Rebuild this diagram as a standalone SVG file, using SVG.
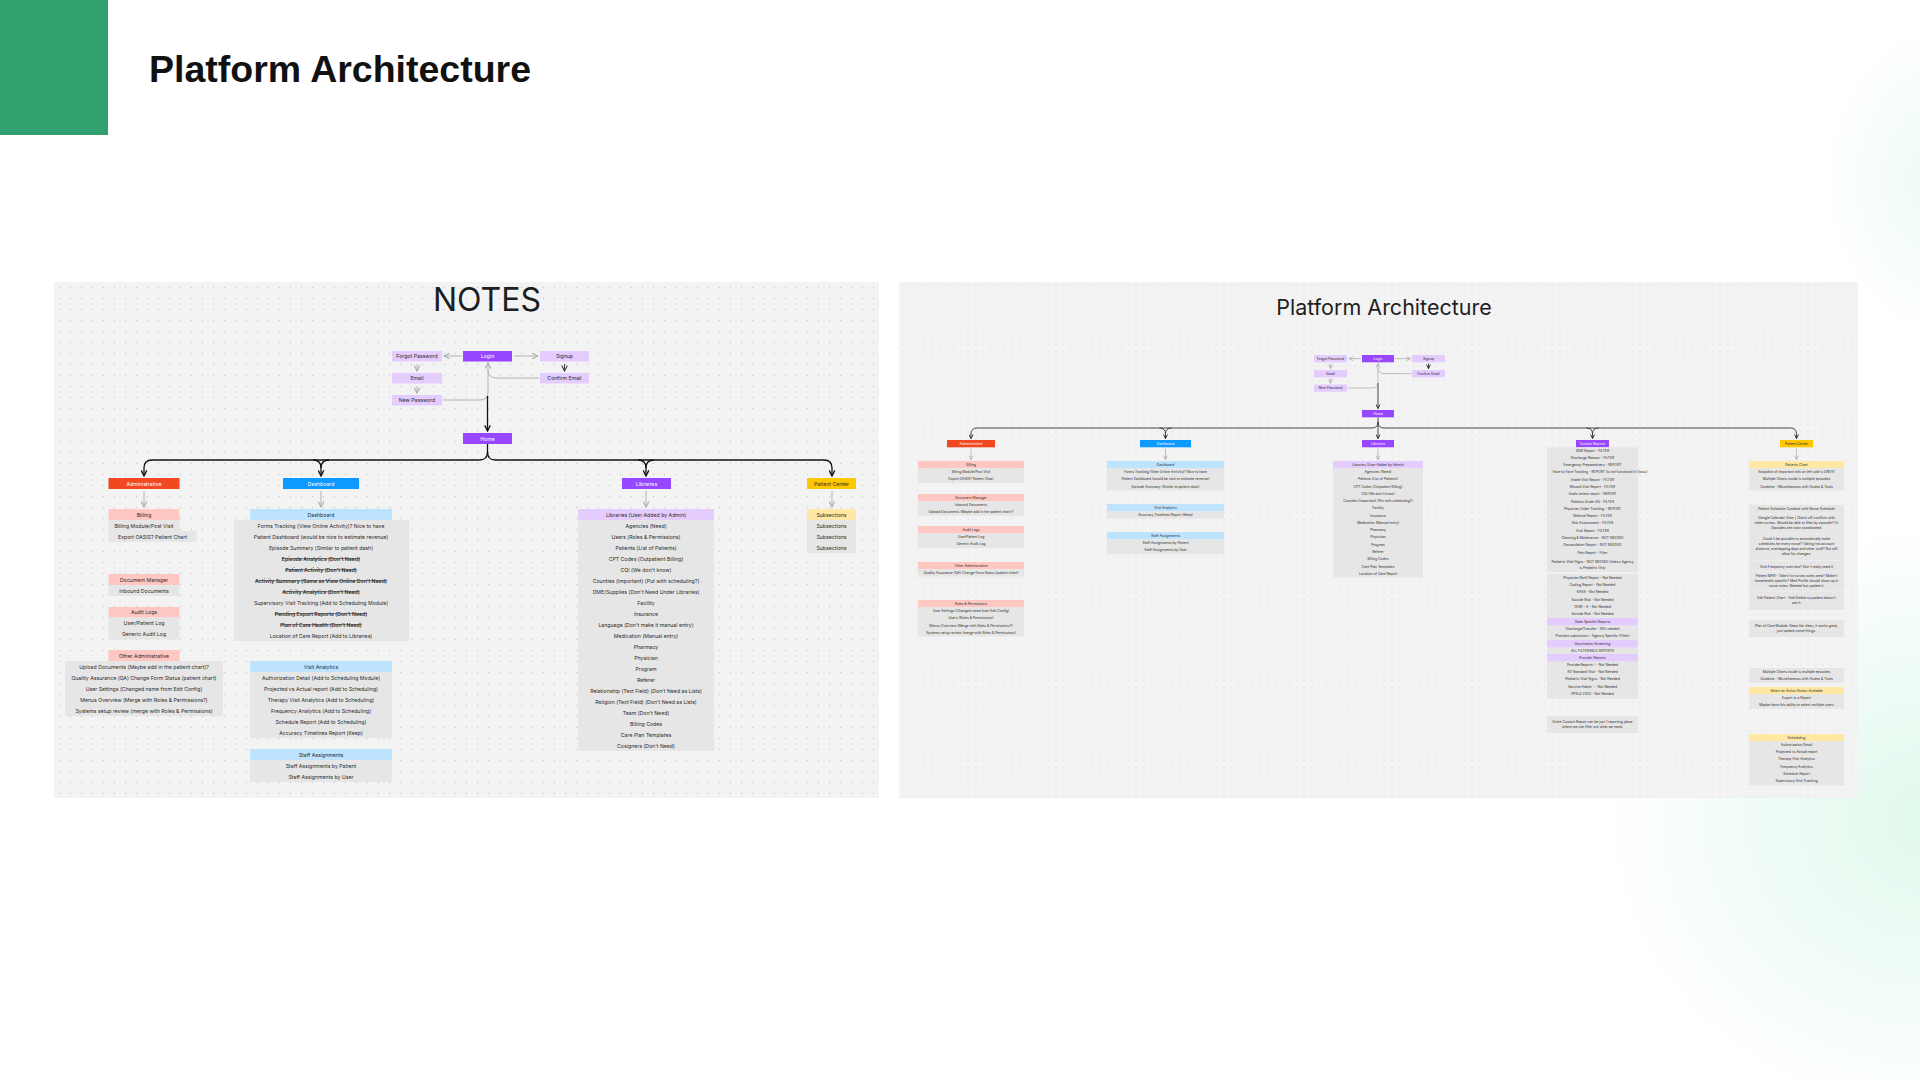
<svg xmlns="http://www.w3.org/2000/svg" width="1920" height="1080" viewBox="0 0 1920 1080">
<defs>
<pattern id="dotL" x="54" y="282" width="11" height="11" patternUnits="userSpaceOnUse"><circle cx="5.5" cy="5.5" r="0.7" fill="#c9c9c9"/></pattern>
<pattern id="dotR" x="899" y="282" width="7.3" height="7.3" patternUnits="userSpaceOnUse"><circle cx="3.65" cy="3.65" r="0.5" fill="#c9c9c9"/></pattern>
<radialGradient id="mint" cx="0.5" cy="0.5" r="0.5"><stop offset="0" stop-color="#d6f6e6" stop-opacity="0.75"/><stop offset="1" stop-color="#d6f6e6" stop-opacity="0"/></radialGradient>
<marker id="abL" viewBox="0 0 10 10" refX="9" refY="5" markerWidth="7" markerHeight="7" markerUnits="userSpaceOnUse" orient="auto"><path d="M1,1 L9,5 L1,9" fill="none" stroke="#111" stroke-width="1.8"/></marker>
<marker id="agL" viewBox="0 0 10 10" refX="9" refY="5" markerWidth="7" markerHeight="7" markerUnits="userSpaceOnUse" orient="auto"><path d="M1,1 L9,5 L1,9" fill="none" stroke="#aaa" stroke-width="1.5"/></marker>
<marker id="adL" viewBox="0 0 10 10" refX="9" refY="5" markerWidth="7" markerHeight="7" markerUnits="userSpaceOnUse" orient="auto"><path d="M1,1 L9,5 L1,9" fill="none" stroke="#444" stroke-width="1.6"/></marker>
<marker id="abR" viewBox="0 0 10 10" refX="9" refY="5" markerWidth="5" markerHeight="5" markerUnits="userSpaceOnUse" orient="auto"><path d="M1,1 L9,5 L1,9" fill="none" stroke="#222" stroke-width="1.8"/></marker>
<marker id="agR" viewBox="0 0 10 10" refX="9" refY="5" markerWidth="5" markerHeight="5" markerUnits="userSpaceOnUse" orient="auto"><path d="M1,1 L9,5 L1,9" fill="none" stroke="#aaa" stroke-width="1.5"/></marker>
<style>
.L{font-family:Inter,'Liberation Sans',sans-serif;font-size:5.2px;fill:#2b2b2b;text-anchor:middle;dominant-baseline:central}
.R{font-family:Inter,'Liberation Sans',sans-serif;font-size:3.4px;fill:#2b2b2b;text-anchor:middle;dominant-baseline:central}
.w{fill:#fff}
.s{text-decoration:line-through;font-weight:600}
.row{fill:#e6e6e6}
.pk{fill:#ffc7c2}
.lb{fill:#bde3ff}
.lv{fill:#e4ccff}
.ly{fill:#ffe8a3}
.or{fill:#f24822}
.bl{fill:#0d99ff}
.pu{fill:#9747ff}
.ye{fill:#ffc700}
.cb{fill:none;stroke:#111;stroke-width:1.3}
.cg{fill:none;stroke:#b3b3b3;stroke-width:1}
.cd{fill:none;stroke:#444;stroke-width:1}
.rb{fill:none;stroke:#333;stroke-width:0.9}
.rg{fill:none;stroke:#b3b3b3;stroke-width:0.8}
</style>
</defs>
<rect width="1920" height="1080" fill="#fff"/>
<ellipse cx="1930" cy="820" rx="330" ry="300" fill="url(#mint)"/>
<ellipse cx="1940" cy="180" rx="120" ry="160" fill="url(#mint)" opacity="0.6"/>
<rect x="0" y="0" width="108" height="135" fill="#31a06f"/>
<text x="149" y="82" font-family="'Liberation Sans',Arial,sans-serif" font-weight="700" font-size="37.5" fill="#111">Platform Architecture</text>

<!-- LEFT PANEL -->
<rect x="54" y="282" width="825" height="516" fill="#f3f3f3"/>
<rect x="54" y="282" width="825" height="516" fill="url(#dotL)"/>
<text x="487" y="311" font-family="Inter,'Liberation Sans',sans-serif" font-size="32" fill="#1e1e1e" text-anchor="middle">NOTES</text>

<g id="left-connectors">
<path class="cg" d="M462 356 H444" marker-end="url(#agL)"/>
<path class="cg" d="M514 356 H538" marker-end="url(#agL)"/>
<path class="cg" d="M417 364 V371" marker-end="url(#agL)"/>
<path class="cg" d="M417 386 V393" marker-end="url(#agL)"/>
<path class="cd" d="M564.5 364 V371" marker-end="url(#adL)"/>
<path class="cg" d="M443 400 H480 Q488 400 488 392 V370"/>
<path class="cg" d="M539 378 H496 Q488 378 488 370 V363" marker-end="url(#agL)"/>
<path class="cb" d="M487.5 396 V431" marker-end="url(#abL)"/>
<path class="cb" d="M487.5 444 V452 Q487.5 460 479.5 460 H152 Q144 460 144 468 V476" marker-end="url(#abL)"/>
<path class="cb" d="M487.5 452 Q487.5 460 495.5 460 H824 Q832 460 832 468 V476" marker-end="url(#abL)"/>
<path class="cb" d="M313 460 Q321 460 321 468 V476" marker-end="url(#abL)"/>
<path class="cb" d="M329 460 Q321 460 321 468"/>
<path class="cb" d="M638 460 Q646 460 646 468 V476" marker-end="url(#abL)"/>
<path class="cb" d="M654 460 Q646 460 646 468"/>
<path class="cg" d="M144 491 V507" marker-end="url(#agL)"/>
<path class="cg" d="M321 491 V507" marker-end="url(#agL)"/>
<path class="cg" d="M646 491 V507" marker-end="url(#agL)"/>
<path class="cg" d="M832 491 V507" marker-end="url(#agL)"/>
</g>

<g id="l-forgot"><rect class="lv" x="392" y="351" width="50" height="10.5"/><text class="L" x="417" y="356.3">Forgot Password</text></g>
<g id="l-login"><rect class="pu" x="463" y="351" width="49" height="10.5"/><text class="L w" x="487.5" y="356.3">Login</text></g>
<g id="l-signup"><rect class="lv" x="540" y="351" width="49" height="10.5"/><text class="L" x="564.5" y="356.3">Signup</text></g>
<g id="l-email"><rect class="lv" x="392" y="373" width="50" height="10.5"/><text class="L" x="417" y="378.3">Email</text></g>
<g id="l-confirm"><rect class="lv" x="540" y="373" width="49" height="10.5"/><text class="L" x="564.5" y="378.3">Confirm Email</text></g>
<g id="l-newpw"><rect class="lv" x="392" y="395" width="50" height="10.5"/><text class="L" x="417" y="400.3">New Password</text></g>
<g id="l-home"><rect class="pu" x="463" y="433" width="49" height="11"/><text class="L w" x="487.5" y="438.5">Home</text></g>

<g id="l-administrative"><rect class="or" x="108.5" y="478" width="71" height="11"/><text class="L w" x="144" y="483.5">Administrative</text></g>
<g id="l-dashboard"><rect class="bl" x="283" y="478" width="76" height="11"/><text class="L w" x="321" y="483.5">Dashboard</text></g>
<g id="l-libraries"><rect class="pu" x="622" y="478" width="49" height="11"/><text class="L w" x="646.5" y="483.5">Libraries</text></g>
<g id="l-patient-center"><rect class="ye" x="807" y="478" width="49" height="11"/><text class="L" x="831.5" y="483.5">Patient Center</text></g>

<g id="l-billing">
<rect class="pk" x="108.5" y="509" width="71" height="11"/><text class="L" x="144" y="514.5">Billing</text>
<rect class="row" x="108.5" y="520" width="71" height="11"/><text class="L" x="144" y="525.5">Billing Module/Post Visit</text>
<rect class="row" x="108.5" y="531" width="88" height="11"/><text class="L" x="152.5" y="536.5">Export OASIS? Patient Chart</text>
</g>
<g id="l-document-manager">
<rect class="pk" x="108.5" y="574" width="71" height="11"/><text class="L" x="144" y="579.5">Document Manager</text>
<rect class="row" x="108.5" y="585" width="71" height="11"/><text class="L" x="144" y="590.5">Inbound Documents</text>
</g>
<g id="l-audit-logs">
<rect class="pk" x="108.5" y="607" width="71" height="10.5"/><text class="L" x="144" y="612.3">Audit Logs</text>
<rect class="row" x="108.5" y="617.5" width="71" height="22"/><text class="L" x="144" y="623">User/Patient Log</text><text class="L" x="144" y="634">Generic Audit Log</text>
</g>
<g id="l-other-admin">
<rect class="pk" x="108.5" y="650" width="71" height="11"/><text class="L" x="144" y="655.5">Other Administrative</text>
<rect class="row" x="65" y="661" width="158" height="55"/>
<text class="L" x="144" y="666.5">Upload Documents (Maybe add in the patient chart)?</text>
<text class="L" x="144" y="677.5">Quality Assurance (QA) Change Form Status (patient chart)</text>
<text class="L" x="144" y="688.5">User Settings (Changed name from Edit Config)</text>
<text class="L" x="144" y="699.5">Menus Overview (Merge with Roles &amp; Permissions?)</text>
<text class="L" x="144" y="710.5">Systems setup review (merge with Roles &amp; Permissions)</text>
</g>

<g id="l-dashboard-list">
<rect class="lb" x="250" y="509" width="142" height="11"/><text class="L" x="321" y="514.5">Dashboard</text>
<rect class="row" x="234" y="520" width="175" height="121"/>
<text class="L" x="321" y="525.5">Forms Tracking (View Online Activity)? Nice to have</text>
<text class="L" x="321" y="536.5">Patient Dashboard (would be nice to estimate revenue)</text>
<text class="L" x="321" y="547.5">Episode Summary (Similar to patient dash)</text>
<text class="L s" x="321" y="558.5">Episode Analytics (Don't Need)</text>
<text class="L s" x="321" y="569.5">Patient Activity (Don't Need)</text>
<text class="L s" x="321" y="580.5">Activity Summary (Same as View Online Don't Need)</text>
<text class="L s" x="321" y="591.5">Activity Analytics (Don't Need)</text>
<text class="L" x="321" y="602.5">Supervisory Visit Tracking (Add to Scheduling Module)</text>
<text class="L s" x="321" y="613.5">Pending Export Reports (Don't Need)</text>
<text class="L s" x="321" y="624.5">Plan of Care Health (Don't Need)</text>
<text class="L" x="321" y="635.5">Location of Care Report (Add to Libraries)</text>
</g>
<g id="l-visit-analytics">
<rect class="lb" x="250" y="661" width="142" height="11"/><text class="L" x="321" y="666.5">Visit Analytics</text>
<rect class="row" x="250" y="672" width="142" height="66"/>
<text class="L" x="321" y="677.5">Authorization Detail (Add to Scheduling Module)</text>
<text class="L" x="321" y="688.5">Projected vs Actual report (Add to Scheduling)</text>
<text class="L" x="321" y="699.5">Therapy Visit Analytics (Add to Scheduling)</text>
<text class="L" x="321" y="710.5">Frequency Analytics (Add to Scheduling)</text>
<text class="L" x="321" y="721.5">Schedule Report (Add to Scheduling)</text>
<text class="L" x="321" y="732.5">Accuracy Timelines Report (Keep)</text>
</g>
<g id="l-staff-assignments">
<rect class="lb" x="250" y="749" width="142" height="11"/><text class="L" x="321" y="754.5">Staff Assignments</text>
<rect class="row" x="250" y="760" width="142" height="22"/>
<text class="L" x="321" y="765.5">Staff Assignments by Patient</text>
<text class="L" x="321" y="776.5">Staff Assignments by User</text>
</g>

<g id="l-libraries-list">
<rect class="lv" x="578" y="509" width="136" height="11"/><text class="L" x="646" y="514.5">Libraries (User Added by Admin)</text>
<rect class="row" x="578" y="520" width="136" height="231"/>
<text class="L" x="646" y="525.5">Agencies (Need)</text>
<text class="L" x="646" y="536.5">Users (Roles &amp; Permissions)</text>
<text class="L" x="646" y="547.5">Patients (List of Patients)</text>
<text class="L" x="646" y="558.5">CPT Codes (Outpatient Billing)</text>
<text class="L" x="646" y="569.5">CQI (We don't know)</text>
<text class="L" x="646" y="580.5">Counties (Important) (Put with scheduling?)</text>
<text class="L" x="646" y="591.5">DME/Supplies (Don't Need Under Libraries)</text>
<text class="L" x="646" y="602.5">Facility</text>
<text class="L" x="646" y="613.5">Insurance</text>
<text class="L" x="646" y="624.5">Language (Don't make it manual entry)</text>
<text class="L" x="646" y="635.5">Medication (Manual entry)</text>
<text class="L" x="646" y="646.5">Pharmacy</text>
<text class="L" x="646" y="657.5">Physician</text>
<text class="L" x="646" y="668.5">Program</text>
<text class="L" x="646" y="679.5">Referer</text>
<text class="L" x="646" y="690.5">Relationship (Text Field) (Don't Need as Lists)</text>
<text class="L" x="646" y="701.5">Religion (Text Field) (Don't Need as Lists)</text>
<text class="L" x="646" y="712.5">Team (Don't Need)</text>
<text class="L" x="646" y="723.5">Billing Codes</text>
<text class="L" x="646" y="734.5">Care Plan Templates</text>
<text class="L" x="646" y="745.5">Cosigners (Don't Need)</text>
</g>
<g id="l-subsections">
<rect class="ly" x="807" y="509" width="49" height="11"/><text class="L" x="831.5" y="514.5">Subsections</text>
<rect class="row" x="807" y="520" width="49" height="33"/>
<text class="L" x="831.5" y="525.5">Subsections</text>
<text class="L" x="831.5" y="536.5">Subsections</text>
<text class="L" x="831.5" y="547.5">Subsections</text>
</g>

<!-- RIGHT PANEL -->
<rect x="899" y="282" width="959" height="516" fill="#f3f3f3"/>
<rect x="899" y="282" width="959" height="516" fill="url(#dotR)"/>
<text x="1384" y="315" font-family="Inter,'Liberation Sans',sans-serif" font-size="21.5" fill="#1e1e1e" text-anchor="middle">Platform Architecture</text>

<g id="right-connectors">
<path class="rg" d="M1361 358.6 H1349" marker-end="url(#agR)"/>
<path class="rg" d="M1395 358.6 H1410.5" marker-end="url(#agR)"/>
<path class="rg" d="M1330.5 363.5 V368.6" marker-end="url(#agR)"/>
<path class="rg" d="M1330.5 378 V383.2" marker-end="url(#agR)"/>
<path class="rb" d="M1428.5 363.5 V368.6" marker-end="url(#abR)"/>
<path class="rg" d="M1348 388 H1372 Q1378 388 1378 382 V368"/>
<path class="rg" d="M1411 373.6 H1384 Q1378 373.6 1378 367.6 V363.5" marker-end="url(#agR)"/>
<path class="rb" d="M1378 383 V408.5" stroke-width="1.2" marker-end="url(#abR)"/>
<path class="rb" d="M1378 417.5 V438.5" stroke-width="1.2" marker-end="url(#abR)"/>
<path class="rb" d="M1378 422 Q1378 428 1372 428 H977 Q971 428 971 434 V438.5" marker-end="url(#abR)"/>
<path class="rb" d="M1378 422 Q1378 428 1384 428 H1790.5 Q1796.5 428 1796.5 434 V438.5" marker-end="url(#abR)"/>
<path class="rb" d="M1159.5 428 Q1165.5 428 1165.5 434 V438.5" marker-end="url(#abR)"/>
<path class="rb" d="M1171.5 428 Q1165.5 428 1165.5 434"/>
<path class="rb" d="M1586.5 428 Q1592.5 428 1592.5 434 V438.5" marker-end="url(#abR)"/>
<path class="rb" d="M1598.5 428 Q1592.5 428 1592.5 434"/>
<path class="rg" d="M971 448.5 V459.5" marker-end="url(#agR)"/>
<path class="rg" d="M1165.5 448.5 V459.5" marker-end="url(#agR)"/>
<path class="rg" d="M1378 448.5 V459.5" marker-end="url(#agR)"/>
<path class="rg" d="M1796.5 448.5 V459.5" marker-end="url(#agR)"/>
</g>

<g id="r-forgot"><rect class="lv" x="1314" y="355" width="33" height="7.3"/><text class="R" x="1330.5" y="358.7">Forgot Password</text></g>
<g id="r-login"><rect class="pu" x="1362" y="355" width="32" height="7.3"/><text class="R w" x="1378" y="358.7">Login</text></g>
<g id="r-signup"><rect class="lv" x="1412" y="355" width="33" height="7.3"/><text class="R" x="1428.5" y="358.7">Signup</text></g>
<g id="r-email"><rect class="lv" x="1314" y="370" width="33" height="7.3"/><text class="R" x="1330.5" y="373.7">Email</text></g>
<g id="r-confirm"><rect class="lv" x="1412" y="370" width="33" height="7.3"/><text class="R" x="1428.5" y="373.7">Confirm Email</text></g>
<g id="r-newpw"><rect class="lv" x="1314" y="384.5" width="33" height="7.3"/><text class="R" x="1330.5" y="388.2">New Password</text></g>
<g id="r-home"><rect class="pu" x="1362" y="410" width="32" height="7.3"/><text class="R w" x="1378" y="413.7">Home</text></g>

<g id="r-administrative"><rect class="or" x="947" y="440" width="48" height="7.3"/><text class="R w" x="971" y="443.7">Administrative</text></g>
<g id="r-dashboard"><rect class="bl" x="1140" y="440" width="51" height="7.3"/><text class="R w" x="1165.5" y="443.7">Dashboard</text></g>
<g id="r-libraries"><rect class="pu" x="1362" y="440" width="32" height="7.3"/><text class="R w" x="1378" y="443.7">Libraries</text></g>
<g id="r-custom-reports"><rect class="pu" x="1576" y="440" width="33" height="7.3"/><text class="R w" x="1592.5" y="443.7">Custom Reports</text></g>
<g id="r-patient-center"><rect class="ye" x="1780" y="440" width="33" height="7.3"/><text class="R" x="1796.5" y="443.7">Patient Center</text></g>

<g id="r-billing">
<rect class="pk" x="918" y="461" width="106" height="7.3"/><text class="R" x="971" y="464.7">Billing</text>
<rect class="row" x="918" y="468.3" width="106" height="14.6"/>
<text class="R" x="971" y="472">Billing Module/Post Visit</text>
<text class="R" x="971" y="479.3">Export OASIS? Patient Chart</text>
</g>
<g id="r-document-manager">
<rect class="pk" x="918" y="494" width="106" height="7.3"/><text class="R" x="971" y="497.7">Document Manager</text>
<rect class="row" x="918" y="501.3" width="106" height="14.6"/>
<text class="R" x="971" y="505">Inbound Documents</text>
<text class="R" x="971" y="512.3">Upload Documents (Maybe add in the patient chart)?</text>
</g>
<g id="r-audit-logs">
<rect class="pk" x="918" y="526" width="106" height="7.3"/><text class="R" x="971" y="529.7">Audit Logs</text>
<rect class="row" x="918" y="533.3" width="106" height="14.6"/>
<text class="R" x="971" y="537">User/Patient Log</text>
<text class="R" x="971" y="544.3">Generic Audit Log</text>
</g>
<g id="r-other-admin">
<rect class="pk" x="918" y="562" width="106" height="7.3"/><text class="R" x="971" y="565.7">Other Administrative</text>
<rect class="row" x="918" y="569.3" width="106" height="7.3"/>
<text class="R" x="971" y="573">Quality Assurance (QA) Change Form Status (patient chart)</text>
</g>
<g id="r-roles">
<rect class="pk" x="918" y="600" width="106" height="7.3"/><text class="R" x="971" y="603.7">Roles &amp; Permissions</text>
<rect class="row" x="918" y="607.3" width="106" height="29.2"/>
<text class="R" x="971" y="611">User Settings (Changed name from Edit Config)</text>
<text class="R" x="971" y="618.3">Users (Roles &amp; Permissions)</text>
<text class="R" x="971" y="625.6">Menus Overview (Merge with Roles &amp; Permissions?)</text>
<text class="R" x="971" y="632.9">Systems setup review (merge with Roles &amp; Permissions)</text>
</g>

<g id="r-dashboard-list">
<rect class="lb" x="1107" y="461" width="117" height="7.3"/><text class="R" x="1165.5" y="464.7">Dashboard</text>
<rect class="row" x="1107" y="468.3" width="117" height="21.9"/>
<text class="R" x="1165.5" y="472">Forms Tracking (View Online Activity)? Nice to have</text>
<text class="R" x="1165.5" y="479.3">Patient Dashboard (would be nice to estimate revenue)</text>
<text class="R" x="1165.5" y="486.6">Episode Summary (Similar to patient dash)</text>
</g>
<g id="r-visit-analytics">
<rect class="lb" x="1107" y="504" width="117" height="7.3"/><text class="R" x="1165.5" y="507.7">Visit Analytics</text>
<rect class="row" x="1107" y="511.3" width="117" height="7.3"/>
<text class="R" x="1165.5" y="515">Accuracy Timelines Report (Keep)</text>
</g>
<g id="r-staff-assignments">
<rect class="lb" x="1107" y="532" width="117" height="7.3"/><text class="R" x="1165.5" y="535.7">Staff Assignments</text>
<rect class="row" x="1107" y="539.3" width="117" height="14.6"/>
<text class="R" x="1165.5" y="543">Staff Assignments by Patient</text>
<text class="R" x="1165.5" y="550.3">Staff Assignments by User</text>
</g>

<g id="r-libraries-list">
<rect class="lv" x="1333" y="461" width="90" height="7.3"/><text class="R" x="1378" y="464.7">Libraries (User Added by Admin)</text>
<rect class="row" x="1333" y="468.3" width="90" height="109"/>
<text class="R" x="1378" y="472">Agencies (Need)</text>
<text class="R" x="1378" y="479.3">Patients (List of Patients)</text>
<text class="R" x="1378" y="486.5">CPT Codes (Outpatient Billing)</text>
<text class="R" x="1378" y="493.8">CQI (We don't know)</text>
<text class="R" x="1378" y="501.1">Counties (Important) (Put with scheduling?)</text>
<text class="R" x="1378" y="508.4">Facility</text>
<text class="R" x="1378" y="515.6">Insurance</text>
<text class="R" x="1378" y="522.9">Medication (Manual entry)</text>
<text class="R" x="1378" y="530.2">Pharmacy</text>
<text class="R" x="1378" y="537.4">Physician</text>
<text class="R" x="1378" y="544.7">Program</text>
<text class="R" x="1378" y="552">Referer</text>
<text class="R" x="1378" y="559.2">Billing Codes</text>
<text class="R" x="1378" y="566.5">Care Plan Templates</text>
<text class="R" x="1378" y="573.8">Location of Care Report</text>
</g>

<g id="r-custom-reports-list">
<rect class="row" x="1547" y="447.3" width="91" height="125"/>
<rect class="row" x="1547" y="574" width="91" height="124.6"/>
<rect class="lv" x="1547" y="618" width="91" height="7.3"/>
<rect class="lv" x="1547" y="640" width="91" height="7.3"/>
<rect class="lv" x="1547" y="654" width="91" height="7.3"/>
<text class="R" x="1592.5" y="450.6">DNR Report - FILTER</text>
<text class="R" x="1592.5" y="457.9">Discharge Reason - FILTER</text>
<text class="R" x="1592.5" y="465.1">Emergency Preparedness - REPORT</text>
<text class="R" x="1600" y="472.4">Face to Face Tracking - REPORT (is not functional in Oasis)</text>
<text class="R" x="1592.5" y="479.7">Intake Visit Report - FILTER</text>
<text class="R" x="1592.5" y="487">Missed Visit Report - FILTER</text>
<text class="R" x="1592.5" y="494.2">Goals review report - REPORT</text>
<text class="R" x="1592.5" y="501.5">Patients Under 65 - FILTER</text>
<text class="R" x="1592.5" y="508.8">Physician Order Tracking - REPORT</text>
<text class="R" x="1592.5" y="516">Referral Report - FILTER</text>
<text class="R" x="1592.5" y="523.3">Risk Assessment - FILTER</text>
<text class="R" x="1592.5" y="530.6">Visit Report - FILTER</text>
<text class="R" x="1592.5" y="537.8">Cleaning &amp; Maitenance - NOT NEEDED</text>
<text class="R" x="1592.5" y="545.1">Decanulation Report - NOT NEEDED</text>
<text class="R" x="1592.5" y="552.6">Pain Report - Filter</text>
<text class="R" x="1592.5" y="562.3">Pediatric Vital Signs - NOT NEEDED Unless Agency</text>
<text class="R" x="1592.5" y="567.6">is Pediatric Only</text>
<text class="R" x="1592.5" y="577.7">Physician Notif Report - Not Needed</text>
<text class="R" x="1592.5" y="585">Coding Report - Not Needed</text>
<text class="R" x="1592.5" y="592.3">KASS - Not Needed</text>
<text class="R" x="1592.5" y="599.6">Suicide Risk - Not Needed</text>
<text class="R" x="1592.5" y="606.9">TASR - A - Not Needed</text>
<text class="R" x="1592.5" y="614.3">Suicide Risk - Not Needed</text>
<text class="R" x="1592.5" y="621.7">State Specific Reports</text>
<text class="R" x="1592.5" y="629">Discharge/Transfer - NOt needed</text>
<text class="R" x="1592.5" y="636.3">Preclaim submission - Agency Specific (Filter)</text>
<text class="R" x="1592.5" y="643.7">Vaccination Screening</text>
<text class="R" x="1592.5" y="650.5">ALL FILTERABLE REPORTS</text>
<text class="R" x="1592.5" y="657.7">Provider Reports</text>
<text class="R" x="1592.5" y="664.8">ProviderReports - - Not Needed</text>
<text class="R" x="1592.5" y="672">SV Standard Visit - Not Needed</text>
<text class="R" x="1592.5" y="679.4">Pediatric Vital Signs - Not Needed</text>
<text class="R" x="1592.5" y="686.8">Vaccine Admin - - Not Needed</text>
<text class="R" x="1592.5" y="694.4">PPSv2 2020 - Not Needed</text>
</g>
<g id="r-custom-note">
<rect class="row" x="1547" y="716" width="91" height="17"/>
<text class="R" x="1592.5" y="722">Entire Custom Report can be just 1 reporting place</text>
<text class="R" x="1592.5" y="727.3">where we can filter out what we need.</text>
</g>

<g id="r-patients-chart">
<rect class="ly" x="1749" y="461" width="95" height="7.3"/><text class="R" x="1796.5" y="464.7">Patients Chart</text>
<rect class="row" x="1749" y="468.3" width="95" height="21.9"/>
<text class="R" x="1796.5" y="472">Snapshot of important info on left side is GREAT</text>
<text class="R" x="1796.5" y="479.3">Multiple Charts inside is multiple episodes</text>
<text class="R" x="1796.5" y="486.6">Combine - Miscellaneous with Scales &amp; Tools</text>
</g>
<g id="r-patient-notes">
<rect class="row" x="1749" y="505" width="95" height="8.3"/>
<rect class="row" x="1749" y="513.8" width="95" height="19.8"/>
<rect class="row" x="1749" y="534.1" width="95" height="26.2"/>
<rect class="row" x="1749" y="560.8" width="95" height="10.6"/>
<rect class="row" x="1749" y="571.9" width="95" height="19.6"/>
<rect class="row" x="1749" y="592" width="95" height="18"/>
<text class="R" x="1796.5" y="509">Patient Schedule Combine with Nurse Schedule</text>
<text class="R" x="1796.5" y="517.7">Google Calendar View | Check off conflicts with</text>
<text class="R" x="1796.5" y="523.2">other nurses. Should be able to filter by zipcode? Or</text>
<text class="R" x="1796.5" y="528.4">Zipcodes are color coordinated.</text>
<text class="R" x="1796.5" y="539.3">Could it be possible to automatically make</text>
<text class="R" x="1796.5" y="544.3">schedules for every nurse? Taking into account</text>
<text class="R" x="1796.5" y="549.3">distance, overlapping days and other stuff? But still</text>
<text class="R" x="1796.5" y="554.3">allow for changes.</text>
<text class="R" x="1796.5" y="566.5">Visit Frequency overview? Don't really need it</text>
<text class="R" x="1796.5" y="576.3">Patient MAR - Take it to nurses notes area? Make it</text>
<text class="R" x="1796.5" y="581.3">homehealth specific? Med Profile should show up in</text>
<text class="R" x="1796.5" y="586.3">nurse notes. Needed but update it.</text>
<text class="R" x="1796.5" y="598.3">Edit Patient Chart - Soft Delete so patient doesn't</text>
<text class="R" x="1796.5" y="603.3">see it.</text>
</g>
<g id="r-plan-of-care">
<rect class="row" x="1749" y="620" width="95" height="17"/>
<text class="R" x="1796.5" y="626">Plan of Care Module. Keep the vibes, it works great,</text>
<text class="R" x="1796.5" y="631.3">just update some things.</text>
</g>
<g id="r-multiple-charts">
<rect class="row" x="1749" y="668" width="95" height="14.6"/>
<text class="R" x="1796.5" y="671.7">Multiple Charts inside is multiple episodes</text>
<text class="R" x="1796.5" y="679">Combine - Miscellaneous with Scales &amp; Tools</text>
</g>
<g id="r-select-action">
<rect class="ly" x="1749" y="687" width="95" height="7.3"/><text class="R" x="1796.5" y="690.7">Select an Action Button Available</text>
<rect class="row" x="1749" y="694.3" width="95" height="14.6"/>
<text class="R" x="1796.5" y="698">Export to a Report</text>
<text class="R" x="1796.5" y="705.3">Maybe have this ability to select multiple users</text>
</g>
<g id="r-scheduling">
<rect class="ly" x="1749" y="734" width="95" height="7.3"/><text class="R" x="1796.5" y="737.7">Scheduling</text>
<rect class="row" x="1749" y="741.3" width="95" height="44"/>
<text class="R" x="1796.5" y="745">Authorization Detail</text>
<text class="R" x="1796.5" y="752.2">Projected vs Actual report</text>
<text class="R" x="1796.5" y="759.4">Therapy Visit Analytics</text>
<text class="R" x="1796.5" y="766.8">Frequency Analytics</text>
<text class="R" x="1796.5" y="774">Schedule Report</text>
<text class="R" x="1796.5" y="781.4">Supervisory Visit Tracking</text>
</g>
</svg>
